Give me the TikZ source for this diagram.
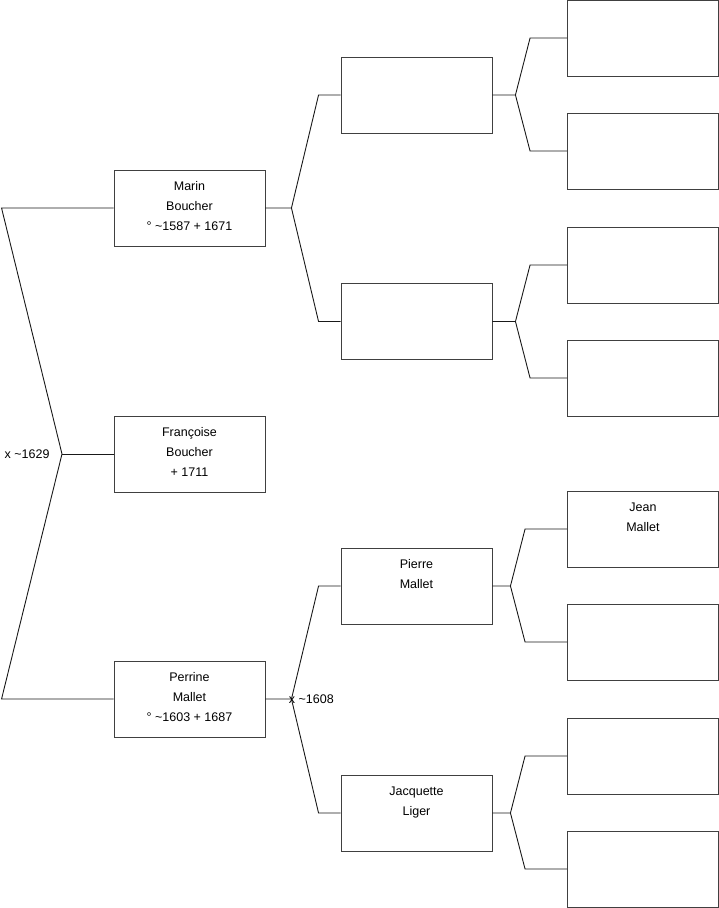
\documentclass[tikz,border=0pt]{standalone}
\usepackage{fontspec}
\setmainfont{Liberation Sans}
\begin{document}
\begin{tikzpicture}[x=1pt, y=-1pt, line width=0.9pt,
  box/.style={draw=black!75, minimum width=151pt, minimum height=76pt, inner sep=0pt},
  who/.style={anchor=north, align=center, inner sep=0pt, yshift=-11.5pt, font=\fontsize{12.5}{20}\selectfont},
  link/.style={draw=black!90},
  wed/.style={font=\fontsize{12.5}{14}\selectfont, inner sep=0pt}]
\useasboundingbox (0,0) rectangle (719,908);
% generation 1
\node[box, label={[who]north:Marin\\Boucher\\° \textasciitilde1587 + 1671}] (marin) at (189.5,208) {};
\node[box, label={[who]north:Françoise\\Boucher\\+ 1711}] (francoise) at (189.5,454) {};
\node[box, label={[who]north:Perrine\\Mallet\\° \textasciitilde1603 + 1687}] (perrine) at (189.5,699) {};
% generation 2
\node[box] (b1) at (416.5,95) {};
\node[box] (b2) at (416.5,321.5) {};
\node[box, label={[who]north:Pierre\\Mallet}] (pierre) at (416.5,586) {};
\node[box, label={[who]north:Jacquette\\Liger}] (jacquette) at (416.5,813) {};
% generation 3
\node[box] (c1) at (643,38) {};
\node[box] (c2) at (643,151) {};
\node[box] (c3) at (643,265) {};
\node[box] (c4) at (643,378) {};
\node[box, label={[who]north:Jean\\Mallet}] (jean) at (643,529) {};
\node[box] (c6) at (643,642) {};
\node[box] (c7) at (643,756) {};
\node[box] (c8) at (643,869) {};
% marriage of Marin and Perrine
\coordinate (w1) at (62,454);
\draw[link] (marin.west) -- ([xshift=-112pt]marin.west) -- (w1) -- ([xshift=-112pt]perrine.west) -- (perrine.west);
\draw[link] (w1) -- (francoise.west);
\node[wed, anchor=east] (w1-l) at ([xshift=-12pt]w1) {x \textasciitilde1629};
% parents of Marin
\coordinate (wm) at ([xshift=26pt]marin.east);
\draw[link] (marin.east) -- (wm) -- ([xshift=-22pt]b1.west) -- (b1.west);
\draw[link] (wm) -- ([xshift=-22pt]b2.west) -- (b2.west);
% parents of Perrine
\coordinate (wp) at ([xshift=26pt]perrine.east);
\draw[link] (perrine.east) -- (wp) -- ([xshift=-22pt]pierre.west) -- (pierre.west);
\draw[link] (wp) -- ([xshift=-22pt]jacquette.west) -- (jacquette.west);
\node[wed, anchor=west] (wp-l) at ([xshift=-3pt]wp) {x \textasciitilde1608};
% generation 2 to 3
\coordinate (f1) at ([xshift=23pt]b1.east);
\draw[link] (b1.east) -- (f1) -- ([xshift=-37pt]c1.west) -- (c1.west);
\draw[link] (f1) -- ([xshift=-37pt]c2.west) -- (c2.west);
\coordinate (f2) at ([xshift=23pt]b2.east);
\draw[link] (b2.east) -- (f2) -- ([xshift=-37pt]c3.west) -- (c3.west);
\draw[link] (f2) -- ([xshift=-37pt]c4.west) -- (c4.west);
\coordinate (f3) at ([xshift=18pt]pierre.east);
\draw[link] (pierre.east) -- (f3) -- ([xshift=-42pt]jean.west) -- (jean.west);
\draw[link] (f3) -- ([xshift=-42pt]c6.west) -- (c6.west);
\coordinate (f4) at ([xshift=18pt]jacquette.east);
\draw[link] (jacquette.east) -- (f4) -- ([xshift=-42pt]c7.west) -- (c7.west);
\draw[link] (f4) -- ([xshift=-42pt]c8.west) -- (c8.west);
\end{tikzpicture}
\end{document}
